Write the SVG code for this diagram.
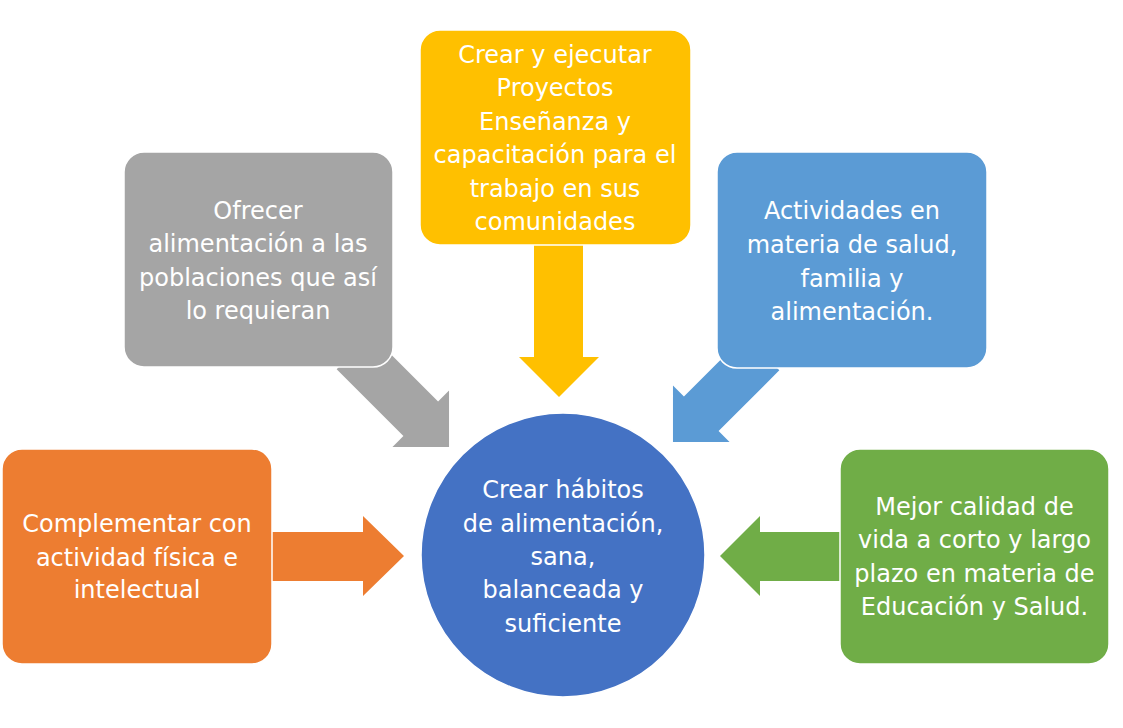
<svg xmlns="http://www.w3.org/2000/svg" width="1123" height="728" viewBox="0 0 1123 728">
<style>
.box{stroke:#ffffff;stroke-width:1.5}
.t{font-family:"DejaVu Sans","Liberation Sans",sans-serif;font-size:24px;fill:#ffffff;text-anchor:middle}
</style>
<rect width="1123" height="728" fill="#ffffff"/>
<g id="connectors">
  <polygon fill="#FFC000" points="534,240 583,240 583,357 599,357 559,397 519,357 534,357"/>
  <polygon fill="#ED7D31" points="268,532 363,532 363,516 404,556 363,596 363,581 268,581"/>
  <polygon fill="#70AD47" points="845,532 760,532 760,516 720,556 760,596 760,581 845,581"/>
  <polygon fill="#A5A5A5" transform="translate(354 352) rotate(45)" points="0,-24.5 94.4,-24.5 94.4,-40 134.4,0 94.4,40 94.4,24.5 0,24.5"/>
  <polygon fill="#5B9BD5" transform="translate(762 353) rotate(135)" points="0,-24.5 85.9,-24.5 85.9,-40 125.9,0 85.9,40 85.9,24.5 0,24.5"/>
</g>
<g id="center">
  <circle cx="563" cy="555" r="142" fill="#4472C4" class="box"/>
  <text class="t" x="563" y="498">Crear hábitos</text>
  <text class="t" x="563" y="532">de alimentación,</text>
  <text class="t" x="563" y="565">sana,</text>
  <text class="t" x="563" y="598">balanceada y</text>
  <text class="t" x="563" y="632">suficiente</text>
</g>
<g id="yellow">
  <rect class="box" x="420" y="30" width="271" height="215" rx="20" fill="#FFC000"/>
  <text class="t" x="555" y="63">Crear y ejecutar</text>
  <text class="t" x="555" y="96">Proyectos</text>
  <text class="t" x="555" y="130">Enseñanza y</text>
  <text class="t" x="555" y="163">capacitación para el</text>
  <text class="t" x="555" y="197">trabajo en sus</text>
  <text class="t" x="555" y="230">comunidades</text>
</g>
<g id="gray">
  <rect class="box" x="124" y="152" width="269" height="215" rx="20" fill="#A5A5A5"/>
  <text class="t" x="258" y="219">Ofrecer</text>
  <text class="t" x="258" y="252">alimentación a las</text>
  <text class="t" x="258" y="286">poblaciones que así</text>
  <text class="t" x="258" y="319">lo requieran</text>
</g>
<g id="blue">
  <rect class="box" x="717" y="152" width="270" height="216" rx="20" fill="#5B9BD5"/>
  <text class="t" x="852" y="219">Actividades en</text>
  <text class="t" x="852" y="253">materia de salud,</text>
  <text class="t" x="852" y="287">familia y</text>
  <text class="t" x="852" y="320">alimentación.</text>
</g>
<g id="orange">
  <rect class="box" x="2" y="449" width="270" height="215" rx="20" fill="#ED7D31"/>
  <text class="t" x="137" y="532">Complementar con</text>
  <text class="t" x="137" y="566">actividad física e</text>
  <text class="t" x="137" y="598">intelectual</text>
</g>
<g id="green">
  <rect class="box" x="840" y="449" width="269" height="215" rx="20" fill="#70AD47"/>
  <text class="t" x="974.5" y="515">Mejor calidad de</text>
  <text class="t" x="974.5" y="548">vida a corto y largo</text>
  <text class="t" x="974.5" y="582">plazo en materia de</text>
  <text class="t" x="974.5" y="615">Educación y Salud.</text>
</g>
</svg>
